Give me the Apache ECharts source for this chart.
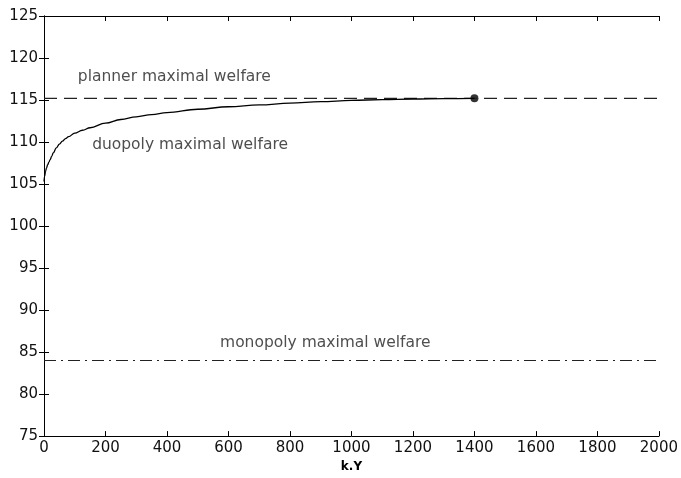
<!DOCTYPE html>
<html>
<head>
<meta charset="utf-8">
<script src="https://cdn.jsdelivr.net/npm/echarts@6/dist/echarts.min.js"></script>
<style>
html,body{margin:0;padding:0;background:#fff;}
#chart{width:681px;height:478px;}
</style>
</head>
<body>
<div id="chart"></div>
<script>
// ---- data ----
var kY = [0, 2, 5, 8, 12, 16, 20, 25, 30, 40, 50, 60, 70, 80, 100, 125, 150, 200, 250, 300, 350, 400, 500, 600, 700, 800, 900, 1000, 1100, 1200, 1300, 1400];
var duopolyWelfare = [105.3, 105.9, 106.5, 106.9, 107.3, 107.6, 107.9, 108.3, 108.7, 109.3, 109.75, 110.1, 110.4, 110.65, 111.05, 111.4, 111.7, 112.25, 112.68, 113.0, 113.27, 113.5, 113.9, 114.2, 114.42, 114.62, 114.8, 114.95, 115.05, 115.12, 115.17, 115.2];
var plannerWelfare = 115.2;
var monopolyWelfare = 84.0;
var optimumPoint = [1400, 115.2];
var annotationTexts = ['planner maximal welfare', 'duopoly maximal welfare', 'monopoly maximal welfare'];
var annotationAnchors = [[424, 117.8], [475, 109.6], [915, 86.1]];
var xTicks = [0, 200, 400, 600, 800, 1000, 1200, 1400, 1600, 1800, 2000];
var yTicks = [75, 80, 85, 90, 95, 100, 105, 110, 115, 120, 125];
var xName = 'k.Y';

// ---- chart ----
var FONT = 'DejaVu Sans';
var chart = echarts.init(document.getElementById('chart'), null, {renderer: 'canvas'});

var duopolyData = kY.map(function (k, i) { return [k, duopolyWelfare[i]]; });
var xMin = xTicks[0], xMax = xTicks[xTicks.length - 1];
var yMin = yTicks[0], yMax = yTicks[yTicks.length - 1];
var xStep = xTicks[1] - xTicks[0], yStep = yTicks[1] - yTicks[0];

function axisBase(extra) {
  var base = {
    type: 'value',
    axisLine: {show: true, lineStyle: {color: '#000', width: 1}},
    axisTick: {show: true, inside: true, length: 5, lineStyle: {color: '#000', width: 1}},
    splitLine: {show: false}
  };
  for (var key in extra) base[key] = extra[key];
  return base;
}

var option = {
  animation: false,
  backgroundColor: '#fff',
  grid: {left: 44, right: 19, top: 16, bottom: 40, containLabel: false},
  xAxis: [
    axisBase({
      position: 'bottom', min: xMin, max: xMax, interval: xStep,
      axisLabel: {show: true, color: '#111', fontFamily: FONT, fontSize: 15, margin: 5,
        formatter: function (v) { return String(v); }},
      name: xName, nameLocation: 'middle', nameGap: 23,
      nameTextStyle: {color: '#000', fontFamily: FONT, fontSize: 12, fontWeight: 'bold'}
    }),
    axisBase({position: 'top', min: xMin, max: xMax, interval: xStep, axisLabel: {show: false}})
  ],
  yAxis: [
    axisBase({
      position: 'left', min: yMin, max: yMax, interval: yStep,
      axisLabel: {show: true, color: '#111', fontFamily: FONT, fontSize: 15, margin: 6}
    }),
    axisBase({position: 'right', min: yMin, max: yMax, interval: yStep, axisLabel: {show: false}})
  ],
  series: [
    {
      name: 'planner', type: 'line', silent: true, symbol: 'none',
      data: [[xMin, plannerWelfare], [xMax, plannerWelfare]],
      lineStyle: {color: '#222', width: 1.2, type: [13, 7]}
    },
    {
      name: 'monopoly', type: 'line', silent: true, symbol: 'none',
      data: [[xMin, monopolyWelfare], [xMax, monopolyWelfare]],
      lineStyle: {color: '#222', width: 1.2, type: [12, 5, 2, 5]}
    },
    {
      name: 'duopoly', type: 'line', silent: true, symbol: 'none',
      smooth: 0.4, smoothMonotone: 'x',
      data: duopolyData,
      lineStyle: {color: '#000', width: 1.3}
    },
    {
      name: 'optimum', type: 'scatter', silent: true, symbol: 'circle', symbolSize: 8,
      data: [optimumPoint],
      itemStyle: {color: '#000'}
    },
    {
      name: 'annotations', type: 'scatter', silent: true, symbolSize: 0,
      data: annotationAnchors.map(function (p, i) { return {value: p, name: annotationTexts[i]}; }),
      label: {
        show: true, position: 'inside', color: '#222', fontFamily: FONT, fontSize: 15.5,
        formatter: function (p) { return p.name; }
      }
    }
  ]
};
chart.setOption(option);
</script>
</body>
</html>
